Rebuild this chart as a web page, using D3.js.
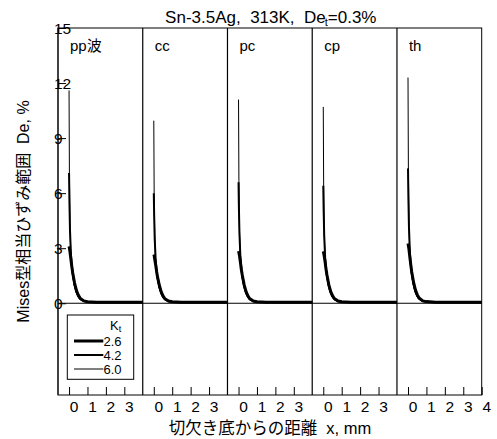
<!DOCTYPE html>
<html>
<head>
<meta charset="utf-8">
<script src="https://cdn.jsdelivr.net/npm/d3@7"></script>
<style>
body { margin: 0; background: #fff; }
text { font-family: "Liberation Sans", Arial, "Noto Sans CJK JP", sans-serif; fill: #000; white-space: pre; }
</style>
</head>
<body>
<svg id="chart" width="497" height="439"></svg>
<script>
// ---- data ----
const panels = ["pp波", "cc", "pc", "cp", "th"];
const ktLabels = ["2.6", "4.2", "6.0"];
const xTicks = [0, 1, 2, 3];
const xTicksLast = [0, 1, 2, 3, 4];
const yTicks = [0, 3, 6, 9, 12, 15];
const xDist = [0, 0.02, 0.05, 0.1, 0.15, 0.2, 0.3, 0.4, 0.5, 0.6, 0.8, 1.0, 1.5, 2, 3, 4];

const pp26 = [3.1, 3.0, 2.8, 2.4, 2.0, 1.65, 1.1, 0.7, 0.45, 0.28, 0.13, 0.08, 0.06, 0.05, 0.05, 0.05];
const pp42 = [7.1, 5.6, 4.0, 2.7, 2.05, 1.6, 1.0, 0.62, 0.38, 0.24, 0.12, 0.08, 0.06, 0.05, 0.05, 0.05];
const pp60 = [11.6, 7.0, 4.2, 2.6, 1.9, 1.45, 0.9, 0.55, 0.33, 0.2, 0.1, 0.07, 0.06, 0.05, 0.05, 0.05];

const cc26 = [2.66, 2.6, 2.4, 2.1, 1.75, 1.45, 0.98, 0.63, 0.4, 0.25, 0.12, 0.08, 0.06, 0.05, 0.05, 0.05];
const cc42 = [6.0, 4.8, 3.5, 2.4, 1.8, 1.4, 0.9, 0.56, 0.35, 0.22, 0.11, 0.07, 0.06, 0.05, 0.05, 0.05];
const cc60 = [9.95, 6.0, 3.7, 2.3, 1.7, 1.3, 0.8, 0.5, 0.3, 0.18, 0.09, 0.07, 0.06, 0.05, 0.05, 0.05];

const pc26 = [2.84, 2.75, 2.6, 2.25, 1.85, 1.55, 1.03, 0.66, 0.42, 0.26, 0.12, 0.08, 0.06, 0.05, 0.05, 0.05];
const pc42 = [6.6, 5.2, 3.8, 2.55, 1.95, 1.5, 0.95, 0.6, 0.37, 0.23, 0.11, 0.08, 0.06, 0.05, 0.05, 0.05];
const pc60 = [11.1, 6.7, 4.0, 2.5, 1.8, 1.4, 0.85, 0.52, 0.32, 0.19, 0.1, 0.07, 0.06, 0.05, 0.05, 0.05];

const cp26 = [2.83, 2.75, 2.58, 2.24, 1.85, 1.54, 1.02, 0.65, 0.42, 0.26, 0.12, 0.08, 0.06, 0.05, 0.05, 0.05];
const cp42 = [6.4, 5.1, 3.7, 2.5, 1.9, 1.48, 0.94, 0.59, 0.37, 0.23, 0.11, 0.08, 0.06, 0.05, 0.05, 0.05];
const cp60 = [10.7, 6.5, 3.9, 2.45, 1.78, 1.38, 0.84, 0.51, 0.31, 0.19, 0.1, 0.07, 0.06, 0.05, 0.05, 0.05];

const th26 = [3.26, 3.15, 2.95, 2.5, 2.1, 1.72, 1.15, 0.73, 0.47, 0.29, 0.13, 0.09, 0.06, 0.05, 0.05, 0.05];
const th42 = [7.35, 5.8, 4.2, 2.8, 2.1, 1.65, 1.05, 0.65, 0.4, 0.25, 0.12, 0.08, 0.06, 0.05, 0.05, 0.05];
const th60 = [12.3, 7.3, 4.4, 2.7, 1.95, 1.5, 0.93, 0.57, 0.34, 0.21, 0.1, 0.07, 0.06, 0.05, 0.05, 0.05];

const panelSeries = [[pp26, pp42, pp60], [cc26, cc42, cc60], [pc26, pc42, pc60], [cp26, cp42, cp60], [th26, th42, th60]];

// ---- layout ----
const svg = d3.select("#chart");
const L = 58, R = 481.7, T = 28, B = 395;
const pw = (R - L) / panels.length;
const widths = [3, 2, 1];

const y = d3.scaleLinear().domain([-5, 15]).range([B, T]);

// frame
svg.append("rect").attr("x", L).attr("y", T).attr("width", R - L).attr("height", B - T)
  .attr("fill", "none").attr("stroke", "#000").attr("stroke-width", 1);
svg.append("line").attr("x1", L).attr("x2", L).attr("y1", T).attr("y2", B)
  .attr("stroke", "#333").attr("stroke-width", 1.6);

panels.forEach((p, i) => {
  const x0 = L + i * pw;
  const x = d3.scaleLinear().domain([-0.6, 4]).range([x0, x0 + pw]);
  const g = svg.append("g");
  if (i > 0) {
    g.append("line").attr("x1", x0).attr("x2", x0).attr("y1", T).attr("y2", B)
      .attr("stroke", "#000").attr("stroke-width", 1.2);
  }
  // x axis (ticks inward)
  const ax = g.append("g").attr("transform", `translate(0,${B})`)
    .call(d3.axisTop(x).tickValues(i === panels.length - 1 ? xTicksLast : xTicks).tickSize(8).tickFormat(d3.format("d")));
  ax.select(".domain").remove();
  ax.selectAll(".tick line").attr("stroke", "#000");
  ax.selectAll(".tick text").attr("y", 17).attr("dy", null).attr("x", 4.5)
    .attr("font-size", 15.5).attr("font-family", '"Liberation Sans", Arial, sans-serif').attr("fill", "#000");

  // zero line
  g.append("line").attr("x1", x0).attr("x2", x0 + pw).attr("y1", y(0)).attr("y2", y(0))
    .attr("stroke", "#000").attr("stroke-width", 1);

  // curves
  const line = d3.line().x((d, k) => x(xDist[k])).y(d => y(d));
  panelSeries[i].forEach((s, k) => {
    g.append("path").datum(s).attr("d", line).attr("fill", "none")
      .attr("stroke", "#000").attr("stroke-width", widths[k]).attr("stroke-linejoin", "round");
  });

  // panel label
  g.append("text").attr("x", x0 + 12).attr("y", 51).attr("font-size", 15)
    .attr("font-family", '"Liberation Sans", Arial, "Noto Sans CJK JP", sans-serif').text(p);
});

// y axis
const ay = svg.append("g").attr("transform", `translate(${L},0)`)
  .call(d3.axisRight(y).tickValues(yTicks).tickSize(8));
ay.select(".domain").remove();
ay.selectAll(".tick line").attr("stroke", "#000");
ay.selectAll(".tick text").attr("x", -4).attr("text-anchor", "start").attr("dy", "0.35em")
  .attr("font-size", 15.5).attr("font-family", '"Liberation Sans", Arial, sans-serif').attr("fill", "#000");

// legend
const lg = svg.append("g");
lg.append("rect").attr("x", 67.3).attr("y", 315).attr("width", 66.4).attr("height", 64.3)
  .attr("fill", "#fff").attr("stroke", "#000").attr("stroke-width", 1);
const kt = lg.append("text").attr("x", 110).attr("y", 330).attr("font-size", 13);
kt.append("tspan").text("K");
kt.append("tspan").attr("font-size", 9).attr("dy", 2).text("t");
const legY = [341, 355, 369];
ktLabels.forEach((lab, k) => {
  lg.append("line").attr("x1", 74).attr("x2", 103.3).attr("y1", legY[k]).attr("y2", legY[k])
    .attr("stroke", "#000").attr("stroke-width", widths[k]);
  lg.append("text").attr("x", 103.5).attr("y", legY[k] + 5).attr("font-size", 13).text(lab);
});

// title
const t = svg.append("text").attr("x", 270.8).attr("y", 23).attr("text-anchor", "middle").attr("font-size", 17);
t.append("tspan").text("Sn-3.5Ag,  313K,  De");
t.append("tspan").attr("font-size", 11).attr("dy", 3).attr("dx", -1).text("t");
t.append("tspan").attr("dy", -3).text("=0.3%");

// axis labels
svg.append("text").attr("x", 270).attr("y", 434).attr("text-anchor", "middle").attr("font-size", 16.5)
  .attr("font-family", '"Liberation Sans", "Noto Sans CJK JP", sans-serif')
  .text("切欠き底からの距離  x, mm");
svg.append("text").attr("transform", "translate(29,211.5) rotate(-90)").attr("text-anchor", "middle")
  .attr("font-size", 16).attr("font-family", '"Liberation Sans", "Noto Sans CJK JP", sans-serif')
  .text("Mises型相当ひずみ範囲  De, %");
</script>
</body>
</html>
